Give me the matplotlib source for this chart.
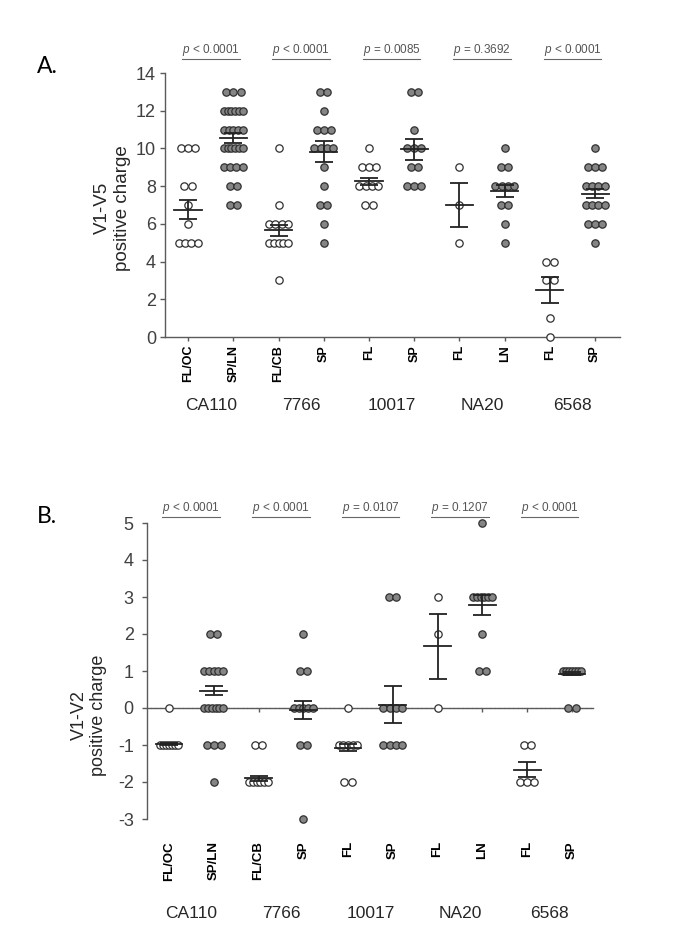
import numpy as np
import matplotlib
matplotlib.use('Agg')
import matplotlib.pyplot as plt
from matplotlib.transforms import blended_transform_factory

plt.rcParams['font.family'] = ['Liberation Sans', 'DejaVu Sans']
plt.rcParams['mathtext.fontset'] = 'custom'
plt.rcParams['mathtext.it'] = 'Liberation Sans:italic'
plt.rcParams['mathtext.rm'] = 'Liberation Sans'
plt.rcParams['axes.unicode_minus'] = False

groups = ['CA110', '7766', '10017', 'NA20', '6568']
tissues = ['FL/OC', 'SP/LN', 'FL/CB', 'SP', 'FL', 'SP', 'FL', 'LN', 'FL', 'SP']
# первый столбец в паре - открытые кружки, второй - серые
open_col = [True, False] * 5

# Панель A: V1-V5
a_values = [[10, 8, 7, 6, 5], [13, 12, 11, 10, 9, 8, 7], [10, 7, 6, 5, 3],
            [13, 12, 11, 10, 9, 8, 7, 6, 5], [10, 9, 8, 7], [13, 11, 10, 9, 8],
            [9, 7, 5], [10, 9, 8, 7, 6, 5], [4, 3, 1, 0], [10, 9, 8, 7, 6, 5]]
a_counts = [[3, 2, 1, 1, 4], [3, 6, 5, 6, 4, 2, 2], [1, 1, 4, 5, 1],
            [2, 1, 3, 4, 1, 1, 2, 1, 1], [1, 3, 4, 2], [2, 1, 3, 2, 3],
            [1, 1, 1], [1, 2, 4, 2, 1, 1], [2, 2, 1, 1], [1, 3, 4, 4, 3, 1]]
a_means = [6.75, 10.55, 5.66, 9.83, 8.25, 9.95, 7.0, 7.75, 2.5, 7.6]
a_sems = [0.5, 0.25, 0.28, 0.55, 0.2, 0.55, 1.15, 0.3, 0.7, 0.25]
a_pvals = [r'$p$ < 0.0001', r'$p$ < 0.0001', r'$p$ = 0.0085', r'$p$ = 0.3692', r'$p$ < 0.0001']

# Панель B: V1-V2
b_values = [[0, -1], [2, 1, 0, -1, -2], [-1, -2], [2, 1, 0, -1, -3], [0, -1, -2],
            [3, 0, -1], [3, 2, 0], [5, 3, 2, 1], [-1, -2], [1, 0]]
b_counts = [[1, 7], [2, 5, 6, 3, 1], [2, 6], [1, 2, 5, 2, 1], [1, 5, 2],
            [2, 4, 4], [1, 1, 1], [1, 6, 1, 2], [2, 3], [7, 2]]
b_means = [-0.97, 0.47, -1.9, -0.05, -1.07, 0.09, 1.67, 2.78, -1.67, 0.93]
b_sems = [0.03, 0.12, 0.06, 0.25, 0.1, 0.5, 0.88, 0.27, 0.2, 0.04]
b_pvals = [r'$p$ < 0.0001', r'$p$ < 0.0001', r'$p$ = 0.0107', r'$p$ = 0.1207', r'$p$ < 0.0001']

positions = np.arange(1, 11)
axis_gray = '#5a5a5a'


def draw_column(ax, x, values, counts, is_open):
    """Точки в стиле Prism: одинаковые значения раскладываются в ряд."""
    xs, ys = [], []
    for v, n in zip(values, counts):
        step = 0.16 if n < 2 else min(0.16, 0.42 / (n - 1))
        offs = (np.arange(n) - (n - 1) / 2) * step
        xs.extend(x + offs)
        ys.extend([v] * n)
    face = 'white' if is_open else '#858585'
    ax.scatter(xs, ys, s=28, facecolor=face, edgecolor='#303030',
               linewidth=0.9, zorder=3, clip_on=False)


def draw_mean_sem(ax, x, mean, sem):
    ax.plot([x - 0.3, x + 0.3], [mean, mean], color='#222222', lw=1.3, zorder=4)
    ax.errorbar(x, mean, yerr=sem, fmt='none', ecolor='#222222', elinewidth=1.3,
                capsize=6.5, capthick=1.3, zorder=4)


def label_columns(ax, y_tick, y_group, tick_size):
    tr = blended_transform_factory(ax.transData, ax.transAxes)
    for x, t in zip(positions, tissues):
        ax.text(x, y_tick, t, transform=tr, rotation=90, ha='center', va='top',
                fontsize=tick_size, fontweight='bold', color='black')
    for i, g in enumerate(groups):
        ax.text(positions[2 * i:2 * i + 2].mean(), y_group, g, transform=tr,
                ha='center', va='center', fontsize=12.5, color='#262626')


def p_labels(ax, texts, y_text):
    tr = blended_transform_factory(ax.transData, ax.transAxes)
    out = []
    for i, p in enumerate(texts):
        out.append(ax.text(positions[2 * i:2 * i + 2].mean(), y_text, p, transform=tr,
                           ha='center', va='center', fontsize=8.5, color='#555555'))
    return out


def underline(fig, ax, texts):
    fig.canvas.draw()
    inv = ax.transAxes.inverted()
    for t in texts:
        bb = t.get_window_extent()
        (x0, y0), (x1, _) = inv.transform([[bb.x0, bb.y0 - 1], [bb.x1, bb.y1]])
        ax.plot([x0, x1], [y0, y0], transform=ax.transAxes, color='#666666',
                lw=0.8, clip_on=False)


def style_axis(ax):
    for side in ['top', 'right']:
        ax.spines[side].set_visible(False)
    for side in ['left', 'bottom']:
        ax.spines[side].set_color(axis_gray)
        ax.spines[side].set_linewidth(1.0)
    ax.tick_params(axis='y', colors=axis_gray, labelcolor='#404040', labelsize=13,
                   length=3.5, width=1.0)
    ax.tick_params(axis='x', colors=axis_gray, length=3, width=1.0, labelbottom=False)
    ax.set_xticks(positions)


fig = plt.figure(figsize=(6.85, 9.51), dpi=100)
W, H = 685, 951

# ---- A ----
ax_a = fig.add_axes([165 / W, 1 - 337 / H, (620 - 165) / W, (337 - 73) / H])
for i in range(10):
    draw_column(ax_a, positions[i], a_values[i], a_counts[i], open_col[i])
    draw_mean_sem(ax_a, positions[i], a_means[i], a_sems[i])
ax_a.set_xlim(0.49, 10.55)
ax_a.set_ylim(0, 14)
ax_a.set_yticks(range(0, 15, 2))
style_axis(ax_a)
ax_a.tick_params(axis='y', pad=3)
ax_a.text(-0.115, 0.49, 'V1-V5\npositive charge', transform=ax_a.transAxes, rotation=90,
          ha='center', va='center', fontsize=13.5, color='#262626', linespacing=1.2)
label_columns(ax_a, -0.03, -0.258, 9)
pa = p_labels(ax_a, a_pvals, 1.087)

# ---- B ----
ax_b = fig.add_axes([147 / W, 1 - 819 / H, (593 - 147) / W, (819 - 523) / H])
for i in range(10):
    draw_column(ax_b, positions[i], b_values[i], b_counts[i], open_col[i])
    draw_mean_sem(ax_b, positions[i], b_means[i], b_sems[i])
ax_b.set_xlim(0.51, 10.47)
ax_b.set_ylim(-3, 5)
ax_b.set_yticks(range(-3, 6))
style_axis(ax_b)
ax_b.spines['bottom'].set_position(('data', 0))
ax_b.spines['bottom'].set_linestyle((0, (2.5, 0.8)))
ax_b.tick_params(axis='y', pad=6)
ax_b.text(-0.13, 0.35, 'V1-V2\npositive charge', transform=ax_b.transAxes, rotation=90,
          ha='center', va='center', fontsize=13, color='#262626', linespacing=1.2)
label_columns(ax_b, -0.075, -0.318, 9.5)
pb = p_labels(ax_b, b_pvals, 1.051)

fig.text(37 / W, 1 - 73 / H, 'A.', fontsize=16.5, family=['Lato', 'DejaVu Sans'], va='baseline')
fig.text(37 / W, 1 - 523 / H, 'B.', fontsize=16.5, family=['Lato', 'DejaVu Sans'], va='baseline')

underline(fig, ax_a, pa)
underline(fig, ax_b, pb)

fig.savefig('out.png', dpi=100)
